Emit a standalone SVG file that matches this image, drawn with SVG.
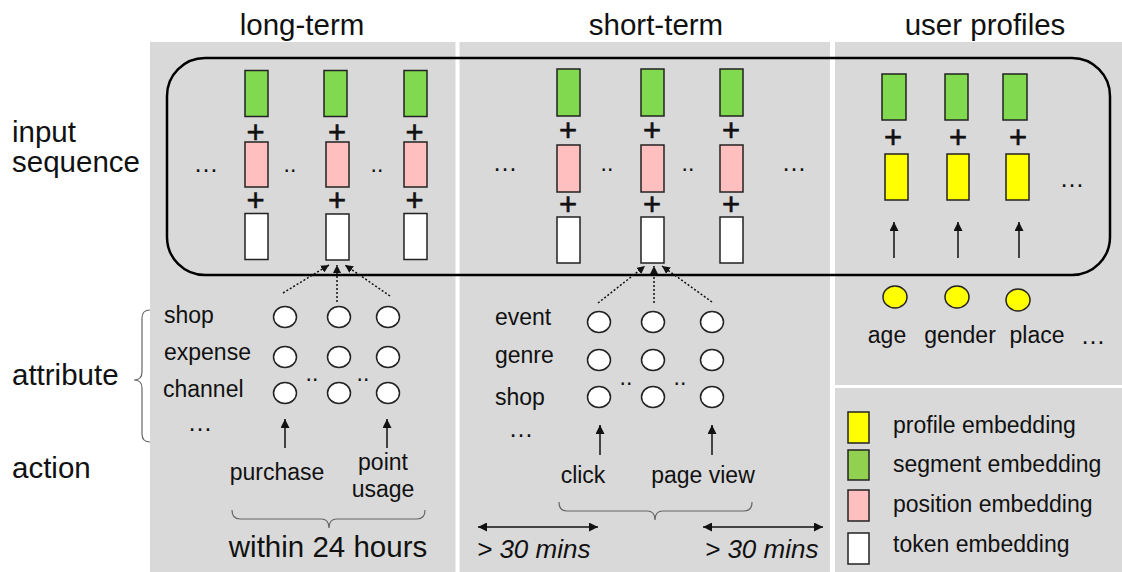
<svg xmlns="http://www.w3.org/2000/svg" width="1122" height="572" viewBox="0 0 1122 572">
<style>
text{font-family:"Liberation Sans",Arial,sans-serif;fill:#111}
.t{font-size:29.5px;text-anchor:middle}
.l{font-size:29.5px}
.a{font-size:23px}
.c{font-size:23px;text-anchor:middle}
.i{font-size:26px;font-style:italic}
.p{font-size:31px;text-anchor:middle;stroke:#111;stroke-width:0.6}
.d{font-size:25px;text-anchor:middle}
.panel{fill:#d9d9d9}
.g{fill:#80d94e;stroke:#222;stroke-width:1.5}
.k{fill:#ffbfbf;stroke:#222;stroke-width:1.5}
.w{fill:#fff;stroke:#222;stroke-width:1.5}
.y{fill:#ffff00;stroke:#222;stroke-width:1.5}
.o{fill:#fff;stroke:#222;stroke-width:1.5}
.ar{stroke:#111;stroke-width:1.5;fill:none;marker-end:url(#ah)}
.dt{stroke:#111;stroke-width:1.5;stroke-dasharray:2,2;fill:none;marker-end:url(#ahs)}
.br{stroke:#666;stroke-width:1.2;fill:none}
</style>
<defs>
<marker id="ah" viewBox="0 0 10 10" refX="10" refY="5" markerWidth="9" markerHeight="9" markerUnits="userSpaceOnUse" orient="auto-start-reverse"><path d="M0,0 L10,5 L0,10 z" fill="#111"/></marker>
<marker id="ahs" viewBox="0 0 10 10" refX="10" refY="5" markerWidth="8" markerHeight="8" markerUnits="userSpaceOnUse" orient="auto"><path d="M0,0 L10,5 L0,10 z" fill="#111"/></marker>
</defs>
<rect width="1122" height="572" fill="#fff"/>
<g id="panels">
<rect class="panel" x="150" y="42" width="305.5" height="530"/>
<rect class="panel" x="459.5" y="42" width="370.5" height="530"/>
<rect class="panel" x="835" y="42" width="287" height="343"/>
<rect class="panel" x="835" y="388" width="287" height="184"/>
</g>
<g id="titles">
<text class="t" x="302" y="35">long-term</text>
<text class="t" x="656" y="35">short-term</text>
<text class="t" x="985" y="35">user profiles</text>
<text class="l" x="12" y="142">input</text>
<text class="l" x="12" y="172">sequence</text>
<text class="l" x="12" y="385">attribute</text>
<text class="l" x="12" y="478">action</text>
</g>
<g id="input-sequence">
<rect x="167" y="58" width="943" height="217" rx="38" fill="none" stroke="#000" stroke-width="2.5"/>
</g>
<g id="long-term">
<rect class="g" x="245" y="70.5" width="23" height="46"/>
<rect class="g" x="324" y="70.5" width="23" height="46"/>
<rect class="g" x="404" y="70.5" width="23" height="46"/>
<rect class="k" x="245" y="142" width="23" height="45"/>
<rect class="k" x="326" y="142" width="23" height="45"/>
<rect class="k" x="404" y="142" width="23" height="45"/>
<rect class="w" x="245" y="213.5" width="23" height="46"/>
<rect class="w" x="326" y="214" width="23" height="46"/>
<rect class="w" x="404" y="213.5" width="23" height="46"/>
<text class="p" x="255.5" y="143">+</text>
<text class="p" x="337" y="143">+</text>
<text class="p" x="414.5" y="143">+</text>
<text class="p" x="255.5" y="211">+</text>
<text class="p" x="337" y="211">+</text>
<text class="p" x="414.5" y="211">+</text>
<text class="d" x="206" y="172">…</text>
<text class="c" x="290" y="172">..</text>
<text class="c" x="377" y="172">..</text>
<text class="a" x="164" y="323">shop</text>
<text class="a" x="164" y="360">expense</text>
<text class="a" x="163" y="397">channel</text>
<text class="d" x="200" y="431">…</text>
<ellipse class="o" cx="285" cy="317" rx="11.5" ry="10.5"/>
<ellipse class="o" cx="339" cy="317" rx="11.5" ry="10.5"/>
<ellipse class="o" cx="388" cy="317" rx="11.5" ry="10.5"/>
<ellipse class="o" cx="285" cy="357" rx="11.5" ry="10.5"/>
<ellipse class="o" cx="339" cy="357" rx="11.5" ry="10.5"/>
<ellipse class="o" cx="388" cy="357" rx="11.5" ry="10.5"/>
<ellipse class="o" cx="285" cy="393" rx="11.5" ry="10.5"/>
<ellipse class="o" cx="339" cy="393" rx="11.5" ry="10.5"/>
<ellipse class="o" cx="388" cy="393" rx="11.5" ry="10.5"/>
<text class="c" x="312" y="381">..</text>
<text class="c" x="363" y="381">..</text>
<text class="c" x="277" y="480">purchase</text>
<text class="c" x="383" y="470">point</text>
<text class="c" x="383" y="497">usage</text>
<text class="t" x="328" y="557">within 24 hours</text>
</g>
<g id="short-term">
<rect class="g" x="557" y="69" width="23" height="47"/>
<rect class="g" x="641" y="69" width="23" height="47"/>
<rect class="g" x="720" y="69" width="23" height="47"/>
<rect class="k" x="557" y="145" width="23" height="47"/>
<rect class="k" x="641" y="145" width="23" height="47"/>
<rect class="k" x="720" y="145" width="23" height="47"/>
<rect class="w" x="557" y="217" width="23" height="46"/>
<rect class="w" x="641" y="217" width="23" height="46"/>
<rect class="w" x="720" y="217" width="23" height="46"/>
<text class="p" x="568" y="141">+</text>
<text class="p" x="652" y="141">+</text>
<text class="p" x="731" y="141">+</text>
<text class="p" x="568" y="215">+</text>
<text class="p" x="652" y="215">+</text>
<text class="p" x="731" y="215">+</text>
<text class="d" x="505" y="171">…</text>
<text class="c" x="607" y="171">..</text>
<text class="c" x="688" y="171">..</text>
<text class="d" x="794" y="171">…</text>
<text class="a" x="495" y="325">event</text>
<text class="a" x="495" y="363">genre</text>
<text class="a" x="495" y="405">shop</text>
<text class="d" x="521" y="437">…</text>
<ellipse class="o" cx="599" cy="322" rx="11.5" ry="10.5"/>
<ellipse class="o" cx="653" cy="322" rx="11.5" ry="10.5"/>
<ellipse class="o" cx="712" cy="322" rx="11.5" ry="10.5"/>
<ellipse class="o" cx="599" cy="360" rx="11.5" ry="10.5"/>
<ellipse class="o" cx="653" cy="360" rx="11.5" ry="10.5"/>
<ellipse class="o" cx="712" cy="360" rx="11.5" ry="10.5"/>
<ellipse class="o" cx="599" cy="397" rx="11.5" ry="10.5"/>
<ellipse class="o" cx="653" cy="397" rx="11.5" ry="10.5"/>
<ellipse class="o" cx="712" cy="397" rx="11.5" ry="10.5"/>
<text class="c" x="626" y="385">..</text>
<text class="c" x="680" y="385">..</text>
<text class="c" x="583" y="483">click</text>
<text class="c" x="703" y="483">page view</text>
<text class="i" x="477" y="558">&gt; 30 mins</text>
<text class="i" x="705" y="558">&gt; 30 mins</text>
</g>
<g id="user-profiles">
<rect class="g" x="882" y="74" width="24" height="46"/>
<rect class="g" x="945" y="74" width="23" height="46"/>
<rect class="g" x="1003" y="74" width="24" height="46"/>
<text class="p" x="893" y="148">+</text>
<text class="p" x="958" y="148">+</text>
<text class="p" x="1018" y="148">+</text>
<rect class="y" x="885" y="154" width="23" height="46"/>
<rect class="y" x="947" y="154" width="22" height="46"/>
<rect class="y" x="1006" y="154" width="23" height="46"/>
<text class="d" x="1072" y="187">…</text>
<ellipse class="y" cx="895" cy="297" rx="12" ry="11"/>
<ellipse class="y" cx="957" cy="297" rx="12" ry="11"/>
<ellipse class="y" cx="1018" cy="300" rx="12" ry="11"/>
<text class="c" x="887" y="343">age</text>
<text class="c" x="960" y="343">gender</text>
<text class="c" x="1037" y="343">place</text>
<text class="d" x="1093" y="344">…</text>
</g>
<g id="legend">
<rect class="y" x="848" y="412" width="21" height="31"/>
<rect x="848" y="450" width="21" height="30" fill="#92d050" stroke="#222" stroke-width="1.5"/>
<rect class="k" x="848" y="490" width="21" height="31"/>
<rect class="w" x="848" y="533" width="21" height="31"/>
<text class="a" x="893" y="433">profile embedding</text>
<text class="a" x="893" y="472">segment embedding</text>
<text class="a" x="893" y="512">position embedding</text>
<text class="a" x="893" y="552">token embedding</text>
</g>
<g id="connectors">
<path class="dt" d="M283,293 L329,265"/>
<path class="dt" d="M337,302 L337,265"/>
<path class="dt" d="M390,296 L345,265"/>
<path class="dt" d="M598,303 L645,266"/>
<path class="dt" d="M654,303 L654,266"/>
<path class="dt" d="M712,302 L662,266"/>
<path class="ar" d="M285,448 L285,419"/>
<path class="ar" d="M387,448 L387,419"/>
<path class="ar" d="M600,455 L600,425"/>
<path class="ar" d="M712,455 L712,425"/>
<path class="ar" d="M894,258 L894,222"/>
<path class="ar" d="M958,258 L958,222"/>
<path class="ar" d="M1019,258 L1019,222"/>
<path class="ar" d="M478,527 L598,527" style="marker-start:url(#ah)"/>
<path class="ar" d="M703,527 L823,527" style="marker-start:url(#ah)"/>
<path class="br" d="M150,310 Q142,310 142,318 L142,372 Q142,380 134,380 Q142,380 142,388 L142,434 Q142,442 150,442"/>
<path class="br" d="M232,510 Q232,519 240,519 L321,519 Q329,519 329,528 Q329,519 337,519 L417,519 Q425,519 425,510"/>
<path class="br" d="M559,502 Q559,511 567,511 L647,511 Q655,511 655,520 Q655,511 663,511 L744,511 Q752,511 752,502"/>
</g>
</svg>
